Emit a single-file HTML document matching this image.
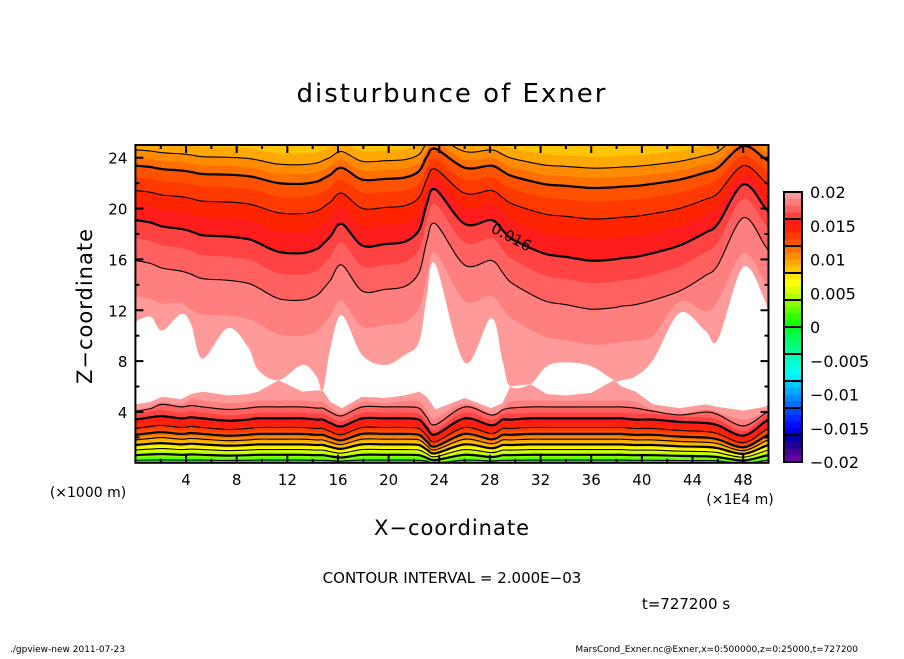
<!DOCTYPE html>
<html><head><meta charset="utf-8"><style>
body{margin:0;background:#fff;}
svg text{font-family:"DejaVu Sans","Liberation Sans",sans-serif;fill:#000;}
</style></head><body>
<svg id="c" width="904" height="654" viewBox="0 0 904 654" xmlns="http://www.w3.org/2000/svg">
<text x="452" y="102" text-anchor="middle" font-size="26" letter-spacing="2">disturbunce of Exner</text>
<text x="0" y="0" transform="translate(92,306) rotate(-90)" text-anchor="middle" font-size="21" letter-spacing="1">Z−coordinate</text>
<text x="452" y="535" text-anchor="middle" font-size="21" letter-spacing="1">X−coordinate</text>
<text x="88" y="497" text-anchor="middle" font-size="14">(×1000 m)</text>
<text x="740" y="504" text-anchor="middle" font-size="14">(×1E4 m)</text>
<text x="452" y="583" text-anchor="middle" font-size="15">CONTOUR INTERVAL = 2.000E−03</text>
<text x="686" y="609" text-anchor="middle" font-size="15">t=727200 s</text>
<text x="10" y="652" font-size="9">./gpview-new   2011-07-23</text>
<text x="858" y="652" text-anchor="end" font-size="9">MarsCond_Exner.nc@Exner,x=0:500000,z=0:25000,t=727200</text>
<g id="plot"></g>
<g id="cbar"></g>
</svg>
<script>
const xs=[0,1.2,2.1,3.6,4.4,5.3,7.3,8.9,9.7,11.3,13.2,14.3,14.8,15.4,16.3,17.9,19.7,21.3,22.4,23.0,23.7,26,28.1,29.0,29.6,31.2,32.5,34,36,37.8,38.4,39.5,40.9,43,45,46,48,49.7,50];
const whiteTop=[11.1,11.5,10.4,11.7,10.9,8.2,10.6,9.1,7.3,6.5,7.7,6.8,5.7,9.0,11.6,8.5,7.7,8.5,9.5,13.0,15.6,7.9,11.4,8.0,6.0,6.2,7.6,7.9,7.6,6.5,6.5,6.8,8.1,11.8,10.4,9.7,15.4,12.8,11.0];
const whiteBottom=[4.6,4.8,5.2,5.0,5.4,5.6,5.3,5.4,5.6,6.5,5.6,5.7,5.7,4.8,4.3,5.2,5.1,5.3,5.6,5.2,4.2,5.1,4.3,4.7,6.0,6.2,5.4,5.3,5.5,6.5,6.0,5.6,4.6,4.3,4.6,4.4,4.1,4.4,4.6];
const upperWave=[1.6,1.4,1.1,0.9,0.7,0.4,0.3,0.1,-0.2,-0.9,-1.0,-0.7,-0.3,0.3,1.3,-0.4,-0.3,-0.1,0.8,2.8,4.0,1.3,1.6,0.8,0.2,-0.6,-1.1,-1.3,-1.6,-1.5,-1.4,-1.3,-1.0,-0.4,0.6,1.3,4.4,2.6,2.2];
const lowerWave=[0,0.2,0.3,0.1,0.2,0.1,-0.1,0,0.1,0.1,0.1,0,0,-0.3,-0.6,0.1,0.1,0.1,0,-0.7,-1.3,0.1,-0.5,0,0,0.1,0.1,0.1,0.1,0.1,0.1,0,0,-0.2,-0.3,-0.5,-1.4,-0.2,0];
const upperLevels=[0.019,0.018,0.017,0.016,0.015,0.014,0.013,0.012,0.011,0.010,0.009];
const upperBase=[11.2,14.0,15.9,17.5,19.0,20.3,21.5,22.5,23.2,23.9,24.7];
const upperAmp=[1.2,1.2,1.1,1.0,0.85,0.7,0.6,0.55,0.5,0.45,0.4];
const lowerLevels=[0.019,0.018,0.017,0.016,0.015,0.014,0.013,0.012,0.011,0.010,0.009,0.008,0.007,0.006,0.005,0.004,0.003,0.002];
const lowerBase=[4.8,4.3,3.85,3.4,3.05,2.7,2.45,2.2,2.0,1.8,1.6,1.4,1.2,1.0,0.8,0.6,0.4,0.2];
const lowerAmp=[1.0,1.0,0.95,0.9,0.85,0.8,0.75,0.7,0.65,0.6,0.55,0.5,0.45,0.4,0.35,0.3,0.2,0.1];
const xTicks=[4,8,12,16,20,24,28,32,36,40,44,48];
const zTicks=[4,8,12,16,20,24];
const cbarLabels=["0.02","0.015","0.01","0.005","0","−0.005","−0.01","−0.015","−0.02"];
const binColors=["#ff9a9a","#ff7e7e","#ff6060","#ff4242","#ff1c1c","#ff2400","#ff3a00","#ff5200","#ff7000","#ff8c00","#ffa800","#ffc400","#ffe600","#ffff00","#d8ff00","#b0ff00","#86ff00","#5cff00","#32ff00","#10ff00","#00ff30","#00ff50","#00ff72","#00ff96","#00ffb8","#00ffd4","#00ffec","#00f0ff","#00c8ff","#00aaff","#008cff","#006eff","#0048ff","#0028ff","#000cff","#0000dc","#0000b0","#200096","#460096","#6c00a0"];

const X0=135.4,X1=768.5,Y0=462.8,Y1=145;
const sx=v=>X0+(v-0)/50*(X1-X0);
const sz=v=>Y0-(v-0)/25*(Y0-Y1);
const binColor=hi=>binColors[Math.round((0.02-hi)/0.001)];
const NS="http://www.w3.org/2000/svg";
const plot=document.getElementById('plot');
function mk(tag,attrs,parent){const e=document.createElementNS(NS,tag);for(const k in attrs)e.setAttribute(k,attrs[k]);(parent||plot).appendChild(e);return e;}
function smooth(pts){let d='';for(let i=0;i<pts.length;i++){if(i===0){d+='M'+pts[0][0]+','+pts[0][1];continue;}const p0=pts[Math.max(0,i-2)],p1=pts[i-1],p2=pts[i],p3=pts[Math.min(pts.length-1,i+1)];const c1=[p1[0]+(p2[0]-p0[0])/6,p1[1]+(p2[1]-p0[1])/6],c2=[p2[0]-(p3[0]-p1[0])/6,p2[1]-(p3[1]-p1[1])/6];d+=' C'+c1[0].toFixed(1)+','+c1[1].toFixed(1)+' '+c2[0].toFixed(1)+','+c2[1].toFixed(1)+' '+p2[0].toFixed(1)+','+p2[1].toFixed(1);}return d;}
function rev(pts){return pts.slice().reverse();}
const defs=mk('defs',{});const cp=mk('clipPath',{id:'pc'},defs);mk('rect',{x:X0,y:Y1,width:X1-X0,height:Y0-Y1},cp);
const g=mk('g',{'clip-path':'url(#pc)'});
let bg=mk('rect',{x:X0,y:Y1,width:X1-X0,height:Y0-Y1,fill:binColor(0.020)},g);


{const top=xs.map((x,i)=>[sx(x),sz(Math.max(whiteTop[i],whiteBottom[i]))]);const bot=xs.map((x,i)=>[sx(x),sz(whiteBottom[i])]);
const d=smooth(top)+' L'+rev(bot).map(p=>p[0]+','+p[1]).join(' L')+' Z';
const w=mk('path',{d:d,fill:'#fff'},g);

}
let prev=whiteTop.map(v=>v+0.6);const upperZ=[];
upperLevels.forEach((L,k)=>{const z=xs.map((x,i)=>Math.max(upperBase[k]+upperAmp[k]*upperWave[i],prev[i]+0.3));prev=z;upperZ.push(z);
const pts=xs.map((x,i)=>[sx(x),sz(z[i])]);const d=smooth(pts)+' L'+sx(50)+','+(Y1-5)+' L'+sx(0)+','+(Y1-5)+' Z';
const p=mk('path',{d:d,fill:binColor(L)},g);

});
let prevL=whiteBottom.map(v=>v-0.3);const lowerZ=[];
lowerLevels.forEach((L,k)=>{const z=xs.map((x,i)=>Math.min(lowerBase[k]+lowerAmp[k]*lowerWave[i],prevL[i]-0.12));prevL=z;lowerZ.push(z);
const pts=xs.map((x,i)=>[sx(x),sz(z[i])]);const d=smooth(pts)+' L'+sx(50)+','+(Y0+5)+' L'+sx(0)+','+(Y0+5)+' Z';
const p=mk('path',{d:d,fill:binColor(L)},g);

});
function isEven(L){return Math.abs(Math.round(L*1000)%2)===0;}
function thick(L){return Math.round(L*1000)%4===0;}
upperLevels.forEach((L,k)=>{if(!isEven(L))return;const pts=xs.map((x,i)=>[sx(x),sz(upperZ[k][i])]);
const p=mk('path',{d:smooth(pts),fill:'none',stroke:'#000','stroke-width':thick(L)?2.2:1.1},g);

});
lowerLevels.forEach((L,k)=>{if(!isEven(L))return;const pts=xs.map((x,i)=>[sx(x),sz(lowerZ[k][i])]);
const p=mk('path',{d:smooth(pts),fill:'none',stroke:'#000','stroke-width':thick(L)?2.2:1.1},g);

});
const lab=mk('text',{x:0,y:0,transform:'translate('+sx(29.5)+','+sz(17.4)+') rotate(28)','font-size':'15','text-anchor':'middle'},g);
lab.textContent='0.016';


const fr=mk('rect',{x:X0,y:Y1,width:X1-X0,height:Y0-Y1,fill:'none',stroke:'#000','stroke-width':2});


for(let v=2;v<50;v+=2){const maj=xTicks.includes(v);const L=maj?8:4;
mk('line',{x1:sx(v),x2:sx(v),y1:Y0,y2:Y0-L,stroke:'#000','stroke-width':2});
mk('line',{x1:sx(v),x2:sx(v),y1:Y1,y2:Y1+L,stroke:'#000','stroke-width':2});}
xTicks.forEach(v=>{const t=mk('text',{x:sx(v),y:Y0+22,'text-anchor':'middle','font-size':'15'});t.textContent=v;

});
for(let v=2;v<25;v+=2){const maj=zTicks.includes(v);const L=maj?8:4;
mk('line',{x1:X0,x2:X0+L,y1:sz(v),y2:sz(v),stroke:'#000','stroke-width':2});
mk('line',{x1:X1,x2:X1-L,y1:sz(v),y2:sz(v),stroke:'#000','stroke-width':2});}
zTicks.forEach(v=>{const t=mk('text',{x:X0-8,y:sz(v)+6,'text-anchor':'end','font-size':'15'});t.textContent=v;

});
const cb=document.getElementById('cbar');const CX=784,CW=18,CT=192,CB=462;const bh=(CB-CT)/binColors.length;
binColors.forEach((c,i)=>{const r=mk('rect',{x:CX,y:CT+i*bh,width:CW,height:bh+0.5,fill:c},cb);

});
for(let i=4;i<binColors.length;i+=4)mk('line',{x1:CX,x2:CX+CW,y1:CT+i*bh,y2:CT+i*bh,stroke:'#000','stroke-width':2},cb);
mk('rect',{x:CX,y:CT,width:CW,height:CB-CT,fill:'none',stroke:'#000','stroke-width':2},cb);
cbarLabels.forEach((s,i)=>{const t=mk('text',{x:810,y:CT+i*(CB-CT)/(cbarLabels.length-1)+6,'font-size':'16'},cb);t.textContent=s;

});
</script>
</body></html>
